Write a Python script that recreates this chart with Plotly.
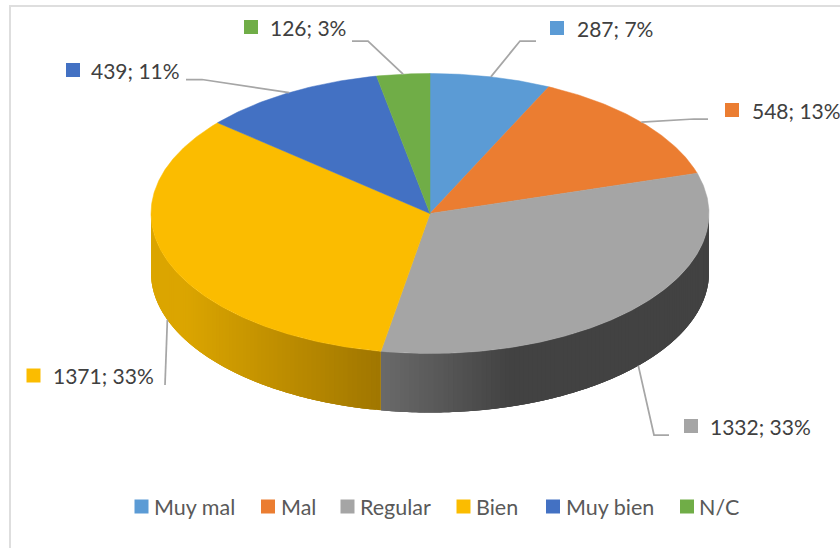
import math
import plotly.graph_objects as go

# ---- data ----
categories = ["Muy mal", "Mal", "Regular", "Bien", "Muy bien", "N/C"]
values = [287, 548, 1332, 1371, 439, 126]
percent_labels = ["7%", "13%", "33%", "33%", "11%", "3%"]

# ---- style ----
colors = ["#5B9BD5", "#EB7D31", "#A5A5A5", "#FBBC00", "#4371C3", "#70AD47"]
W, H = 840, 548
CX, CY, RX, RY, DEPTH = 430, 213.5, 279, 140, 59
FONT = "Lato"
LABEL_SIZE = 21
LEGEND_SIZE = 21.5
LEADER = "#A6A6A6"

# label layout: marker centre x, y, text start x, then leader elbow + end
label_layout = [
    dict(mx=557, my=28, tx=577, elbow=[(520, 41), (536, 41)], depth=0),
    dict(mx=732, my=110, tx=752, elbow=[(694, 119), (708, 119)], depth=0),
    dict(mx=691, my=426, tx=710, elbow=[(654, 435), (669, 435)], depth=1),
    dict(mx=33.5, my=375.5, tx=53, elbow=[(165, 385)], depth=1),
    dict(mx=73, my=70, tx=91, elbow=[(202, 79.5), (186, 79.5)], depth=0),
    dict(mx=251, my=27, tx=270, elbow=[(368, 41), (352, 41)], depth=0),
]
legend_layout = [(141.5, 154), (268, 281), (347.5, 360), (463.5, 476), (553, 566), (687, 699)]
LEGEND_Y = 506.5

total = sum(values)
cum = [0]
for v in values:
    cum.append(cum[-1] + v)
angles = [c / total * 360 for c in cum]


def pt(deg, dy=0):
    r = math.radians(deg)
    return CX + RX * math.sin(r), CY - RY * math.cos(r) + dy


def arc(a0, a1, dy=0, step=0.5):
    n = max(2, int(abs(a1 - a0) / step) + 1)
    return [pt(a0 + (a1 - a0) * i / (n - 1), dy) for i in range(n)]


def lerp(c0, c1, t):
    t = max(0, min(1, t))
    return "rgb(%d,%d,%d)" % tuple(round(a + (b - a) * t) for a, b in zip(c0, c1))


def side_color(i, deg):
    x = pt(deg)[0]
    if i == 2:  # Regular
        return lerp((106, 106, 106), (66, 66, 66), (x - 381) / 130)
    return lerp((219, 165, 0), (160, 118, 0), (x - 185) / 196)  # Bien


fig = go.Figure()

# side wall (only the front half, 90..270 degrees, is visible)
for i in range(len(values)):
    a0, a1 = max(angles[i], 90), min(angles[i + 1], 270)
    if a1 <= a0:
        continue
    n = int((a1 - a0) / 1.0) + 1
    for k in range(n):
        s0 = a0 + (a1 - a0) * k / n
        s1 = a0 + (a1 - a0) * (k + 1) / n
        s_end = min(s1 + 2.0, a1)  # overlap the next strip so no seams appear
        poly = arc(s0, s_end, 0, 0.5) + arc(s_end, s0, DEPTH, 0.5)
        col = side_color(i, (s0 + s1) / 2)
        fig.add_trace(go.Scatter(
            x=[p[0] for p in poly], y=[p[1] for p in poly], mode="none",
            fill="toself", fillcolor=col,
            hoverinfo="skip", showlegend=False))

# top faces
for i, cat in enumerate(categories):
    poly = [(CX, CY)] + arc(angles[i], angles[i + 1]) + [(CX, CY)]
    fig.add_trace(go.Scatter(
        x=[p[0] for p in poly], y=[p[1] for p in poly], mode="lines",
        fill="toself", fillcolor=colors[i], line=dict(color=colors[i], width=0.5),
        name=cat, text=cat, hoverinfo="text", showlegend=False))

annotations = []
# data labels, leaders
for i, lay in enumerate(label_layout):
    mid = (angles[i] + angles[i + 1]) / 2
    start = pt(mid, DEPTH if lay["depth"] else 0)
    path = [start] + lay["elbow"]
    fig.add_trace(go.Scatter(
        x=[p[0] for p in path], y=[p[1] for p in path], mode="lines",
        line=dict(color=LEADER, width=1.75), hoverinfo="skip", showlegend=False))
    fig.add_trace(go.Scatter(
        x=[lay["mx"]], y=[lay["my"]], mode="markers",
        marker=dict(symbol="square", size=14, color=colors[i], line=dict(width=0)),
        hoverinfo="skip", showlegend=False))
    annotations.append(dict(
        x=lay["tx"], y=lay["my"], xref="x", yref="y", xanchor="left", yanchor="middle",
        text=f"{values[i]}; {percent_labels[i]}", showarrow=False, borderpad=0, borderwidth=0,
        font=dict(family=FONT, size=LABEL_SIZE, color="#404040")))

# legend row
for i, (mx, tx) in enumerate(legend_layout):
    fig.add_trace(go.Scatter(
        x=[mx], y=[LEGEND_Y], mode="markers",
        marker=dict(symbol="square", size=14, color=colors[i], line=dict(width=0)),
        hoverinfo="skip", showlegend=False))
    annotations.append(dict(
        x=tx, y=LEGEND_Y, xref="x", yref="y", xanchor="left", yanchor="middle",
        text=categories[i], showarrow=False, borderpad=0, borderwidth=0,
        font=dict(family=FONT, size=LEGEND_SIZE, color="#595959")))

fig.update_layout(
    width=W, height=H, margin=dict(l=0, r=0, t=0, b=0),
    paper_bgcolor="white", plot_bgcolor="white", showlegend=False,
    xaxis=dict(range=[0, W], visible=False, fixedrange=True),
    yaxis=dict(range=[H, 0], visible=False, fixedrange=True),
    annotations=annotations,
    shapes=[dict(type="rect", xref="x", yref="y", x0=10, y0=6, x1=W + 30, y1=H + 30,
                 line=dict(color="#DEDEDE", width=2), layer="below")],
)
fig.write_html("out.html", config=dict(displayModeBar=False),
               post_script="document.body.style.margin='0';document.body.style.overflow='hidden';")
